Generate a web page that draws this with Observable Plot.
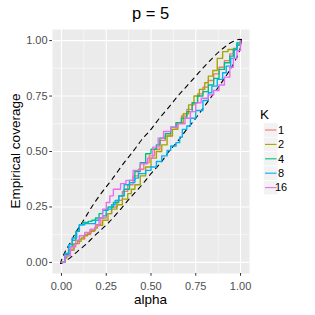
<!DOCTYPE html>
<html><head><meta charset="utf-8">
<script src="https://cdn.jsdelivr.net/npm/d3@7"></script>
<script src="https://cdn.jsdelivr.net/npm/@observablehq/plot@0.6"></script>
<style>
body{margin:0;background:#fff;}
#chart svg{font-family:"Liberation Sans",Arial,sans-serif;}
</style>
</head><body><div id="chart"></div>
<script>
// ---- data ----
const title = "p = 5";
const xLabel = "alpha";
const yLabel = "Empirical coverage";
const legendTitle = "K";
const kLevels = ["1", "2", "4", "8", "16"];
const kColors = ["#F8766D", "#A3A500", "#00BF7D", "#00B0F6", "#E76BF3"];
const tickValues = [0, 0.25, 0.5, 0.75, 1];
const minorTicks = [0.125, 0.375, 0.625, 0.875];

const alphaK1 = [0,0.02,0.04,0.07,0.1,0.13,0.16,0.19,0.22,0.25,0.28,0.31,0.34,0.37,0.4,0.43,0.46,0.49,0.52,0.55,0.58,0.61,0.64,0.67,0.7,0.73,0.76,0.79,0.82,0.85,0.88,0.91,0.94,0.96,0.98,1];
const covK1   = [0,0.03,0.055,0.085,0.105,0.125,0.145,0.17,0.2,0.22,0.25,0.28,0.32,0.35,0.39,0.42,0.45,0.48,0.51,0.55,0.57,0.6,0.63,0.66,0.69,0.72,0.76,0.79,0.82,0.85,0.88,0.91,0.94,0.96,0.98,1];

const alphaK2 = [0,0.02,0.03,0.05,0.07,0.09,0.11,0.125,0.145,0.165,0.185,0.2,0.23,0.26,0.28,0.31,0.34,0.37,0.39,0.41,0.44,0.47,0.5,0.53,0.56,0.59,0.62,0.65,0.68,0.71,0.74,0.77,0.8,0.82,0.845,0.87,0.9,0.93,0.96,0.98,1];
const covK2   = [0,0.02,0.04,0.06,0.085,0.095,0.11,0.12,0.13,0.14,0.155,0.167,0.19,0.22,0.24,0.26,0.285,0.31,0.33,0.35,0.39,0.43,0.47,0.5,0.53,0.57,0.6,0.63,0.67,0.71,0.75,0.78,0.81,0.84,0.865,0.92,0.95,0.96,0.965,0.99,1];

const alphaK4 = [0,0.02,0.04,0.06,0.08,0.1,0.12,0.15,0.17,0.19,0.21,0.23,0.26,0.29,0.32,0.35,0.38,0.41,0.44,0.47,0.5,0.53,0.55,0.58,0.61,0.64,0.67,0.7,0.73,0.76,0.79,0.82,0.85,0.88,0.91,0.94,0.96,0.98,1];
const covK4   = [0,0.035,0.07,0.1,0.14,0.17,0.18,0.185,0.19,0.2,0.22,0.235,0.25,0.27,0.3,0.33,0.37,0.41,0.45,0.49,0.51,0.53,0.56,0.58,0.61,0.63,0.65,0.68,0.72,0.75,0.77,0.8,0.83,0.87,0.9,0.93,0.96,0.98,1];

const alphaK8 = [0,0.02,0.04,0.06,0.085,0.1,0.13,0.17,0.19,0.21,0.23,0.25,0.28,0.3,0.32,0.35,0.38,0.41,0.43,0.47,0.5,0.53,0.56,0.59,0.61,0.64,0.66,0.675,0.7,0.72,0.75,0.79,0.82,0.84,0.87,0.9,0.92,0.945,0.965,0.98,1];
const covK8   = [0,0.04,0.08,0.11,0.14,0.17,0.175,0.175,0.19,0.2,0.21,0.24,0.26,0.28,0.3,0.35,0.36,0.38,0.4,0.415,0.43,0.455,0.48,0.505,0.525,0.54,0.565,0.6,0.615,0.65,0.685,0.73,0.765,0.795,0.825,0.855,0.885,0.92,0.96,0.99,1];

const alphaK16 = [0,0.02,0.05,0.08,0.1,0.13,0.16,0.19,0.21,0.23,0.25,0.27,0.29,0.33,0.36,0.4,0.44,0.48,0.51,0.54,0.57,0.61,0.65,0.69,0.72,0.75,0.78,0.82,0.85,0.88,0.91,0.94,0.96,0.98,1];
const covK16   = [0,0.03,0.07,0.1,0.12,0.135,0.15,0.165,0.2,0.24,0.27,0.3,0.33,0.355,0.37,0.415,0.445,0.47,0.52,0.56,0.59,0.61,0.625,0.65,0.68,0.72,0.74,0.755,0.775,0.8,0.835,0.88,0.92,0.955,1];

// dashed confidence envelope (upper and lower branches)
const bandUpperX = [-0.005,0,0.01,0.025,0.05,0.08,0.116,0.15,0.181,0.23,0.283,0.35,0.4,0.45,0.5,0.544,0.6,0.65,0.7,0.75,0.8,0.842,0.88,0.91,0.94,0.97,0.99,1.005];
const bandUpperY = [-0.005,0.01,0.03,0.055,0.09,0.135,0.18,0.225,0.265,0.32,0.375,0.45,0.5,0.555,0.6,0.647,0.7,0.75,0.795,0.84,0.885,0.92,0.95,0.97,0.988,1.0,1.005,1.005];
const bandLowerX = [-0.005,0.01,0.03,0.055,0.09,0.135,0.18,0.225,0.265,0.32,0.375,0.45,0.5,0.555,0.6,0.647,0.7,0.75,0.795,0.84,0.885,0.92,0.95,0.97,0.988,1.0,1.005,1.005];
const bandLowerY = [-0.005,0,0.01,0.025,0.05,0.08,0.116,0.15,0.181,0.23,0.283,0.35,0.4,0.45,0.5,0.544,0.6,0.65,0.7,0.75,0.8,0.842,0.88,0.91,0.94,0.97,0.99,1.005];

// ---- build tables ----
const seriesAlpha = [alphaK1, alphaK2, alphaK4, alphaK8, alphaK16];
const seriesCov = [covK1, covK2, covK4, covK8, covK16];
const rows = [];
kLevels.forEach((k, i) => seriesAlpha[i].forEach((a, j) => rows.push({K: k, alpha: a, coverage: seriesCov[i][j]})));
const upper = bandUpperX.map((x, i) => ({x, y: bandUpperY[i]}));
const lower = bandLowerX.map((x, i) => ({x, y: bandLowerY[i]}));

const font = "Liberation Sans, Arial, sans-serif";
const fmt = d3.format(".2f");

const chart = Plot.plot({
  width: 315, height: 315,
  marginLeft: 52, marginRight: 66, marginTop: 29, marginBottom: 42,
  style: {fontFamily: font, fontSize: "11px", background: "white", overflow: "visible"},
  x: {domain: [-0.05, 1.05], label: null},
  y: {domain: [-0.05, 1.05], label: null},
  color: {domain: kLevels, range: kColors},
  marks: [
    Plot.frame({fill: "#EBEBEB", stroke: null}),
    Plot.gridX(minorTicks, {stroke: "white", strokeOpacity: 1, strokeWidth: 0.55}),
    Plot.gridY(minorTicks, {stroke: "white", strokeOpacity: 1, strokeWidth: 0.55}),
    Plot.gridX(tickValues, {stroke: "white", strokeOpacity: 1, strokeWidth: 1.1}),
    Plot.gridY(tickValues, {stroke: "white", strokeOpacity: 1, strokeWidth: 1.1}),
    Plot.line(upper, {x: "x", y: "y", stroke: "black", strokeWidth: 1.1, strokeDasharray: "4.5,4.5", curve: "catmull-rom"}),
    Plot.line(lower, {x: "x", y: "y", stroke: "black", strokeWidth: 1.1, strokeDasharray: "4.5,4.5", curve: "catmull-rom"}),
    Plot.line(rows, {x: "alpha", y: "coverage", z: "K", stroke: "K", strokeWidth: 1.35, curve: "step-after"}),
    Plot.axisX(tickValues, {tickFormat: fmt, tickSize: 2.75, tickPadding: 6, stroke: "#333333", fill: "#4D4D4D", fontSize: 11, label: null}),
    Plot.axisY(tickValues, {tickFormat: fmt, tickSize: 2.75, tickPadding: 2.2, stroke: "#333333", fill: "#4D4D4D", fontSize: 11, label: null})
  ]
});
document.getElementById("chart").appendChild(chart);

// ---- title, axis titles, legend (ggplot-style placement) ----
const svg = d3.select(chart);
svg.append("text").attr("x", 150.5).attr("y", 19).attr("text-anchor", "middle")
  .attr("font-size", 16.5).attr("fill", "black").attr("font-family", font).text(title);
svg.append("text").attr("x", 150.5).attr("y", 304).attr("text-anchor", "middle")
  .attr("font-size", 13.5).attr("fill", "black").attr("font-family", font).text(xLabel);
svg.append("text").attr("transform", "translate(20,151) rotate(-90)").attr("text-anchor", "middle")
  .attr("font-size", 13.5).attr("fill", "black").attr("font-family", font).text(yLabel);

const lg = svg.append("g");
lg.append("text").attr("x", 264.5).attr("y", 118.5).attr("font-size", 13.5).attr("fill", "black")
  .attr("font-family", font).text(legendTitle);
const keyH = 14.4, keyTop = 122.8;
kLevels.forEach((k, i) => {
  const y0 = keyTop + i * keyH;
  lg.append("rect").attr("x", 263.5).attr("y", y0).attr("width", keyH).attr("height", keyH)
    .attr("fill", "#F2F2F2").attr("stroke", "white").attr("stroke-width", 0.6);
  lg.append("line").attr("x1", 265).attr("x2", 276.5).attr("y1", y0 + keyH / 2).attr("y2", y0 + keyH / 2)
    .attr("stroke", kColors[i]).attr("stroke-width", 1.1);
  lg.append("text").attr("x", 281).attr("y", y0 + keyH / 2).attr("dy", "0.35em").attr("font-size", 11)
    .attr("fill", "black").attr("font-family", font).text(k);
});
</script>
</body></html>
